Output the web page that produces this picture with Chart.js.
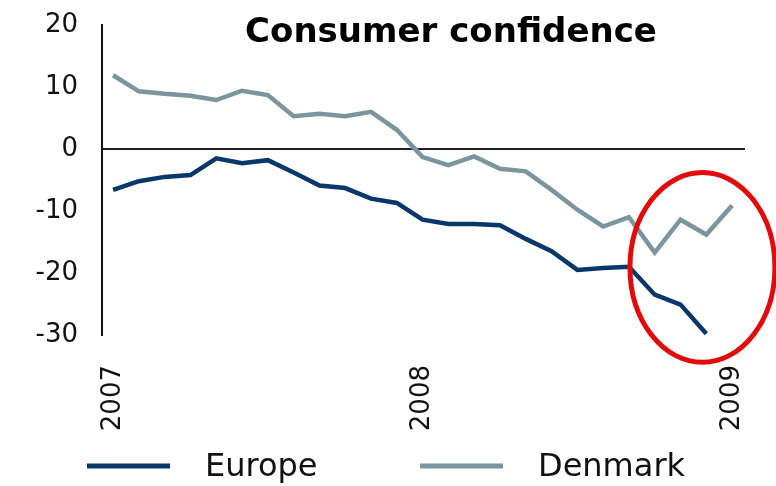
<!DOCTYPE html>
<html>
<head>
<meta charset="utf-8">
<script src="https://cdn.jsdelivr.net/npm/chart.js@4.4.1/dist/chart.umd.min.js"></script>
<style>
  html, body { margin: 0; padding: 0; background: #fff; }
  #wrap { width: 776px; height: 486px; }
</style>
</head>
<body>
<div id="wrap"><canvas id="myChart"></canvas></div>
<script>
// Consumer confidence, monthly, Jan 2007 - Jan 2009

const seriesNames = ['Europe', 'Denmark'];
const europe = [-6.6, -5.2, -4.5, -4.2, -1.5, -2.3, -1.8, -3.8, -5.9, -6.3, -8.0, -8.7,
                -11.4, -12.1, -12.1, -12.3, -14.5, -16.5, -19.5, -19.2, -19.0, -23.5, -25.1, -29.8];
const denmark = [11.9, 9.3, 8.9, 8.6, 7.9, 9.4, 8.7, 5.3, 5.7, 5.3, 6.0, 3.1,
                 -1.3, -2.6, -1.2, -3.2, -3.6, -6.6, -9.8, -12.5, -11.0, -16.7, -11.4, -13.8, -9.1];
const yearTicks = ['2007', '2008', '2009'];   // at month 0, 12, 24
const yTicks = [20, 10, 0, -10, -20, -30];

// red circle round the last months (centre and radii in data units)
const circle = { x: 22.85, y: -19.1, rx: 2.81, ry: 15.3 };

const FONT = 'DejaVu Sans';
Chart.defaults.font.family = FONT;
Chart.defaults.color = '#111';

const toPoints = arr => arr.map((v, i) => ({ x: i, y: v }));

// titolo
const titlePlugin = {
    id: 'titolo',
    afterDraw(chart) {
        const c = chart.ctx;
        c.save();
        c.font = 'bold 34px ' + FONT;
        c.fillStyle = '#000';
        c.textAlign = 'center';
        c.textBaseline = 'alphabetic';
        c.fillText('Consumer confidence', 451, 42);
        c.restore();
    }
};

// cerchio rosso
const circlePlugin = {
    id: 'cerchio',
    afterDraw(chart) {
        const xs = chart.scales.x, ys = chart.scales.y;
        const cx = xs.getPixelForValue(circle.x);
        const cy = ys.getPixelForValue(circle.y);
        const rx = xs.getPixelForValue(circle.x + circle.rx) - cx;
        const ry = ys.getPixelForValue(circle.y - circle.ry) - cy;
        const c = chart.ctx;
        c.save();
        c.beginPath();
        c.ellipse(cx, cy, rx, ry, 0, 0, Math.PI * 2);
        c.strokeStyle = '#e20a0a';
        c.lineWidth = 5;
        c.stroke();
        c.restore();
    }
};

// legenda in basso
const legendPlugin = {
    id: 'legenda',
    afterDraw(chart) {
        const c = chart.ctx;
        const starts = [87, 420];
        c.save();
        chart.data.datasets.forEach((ds, i) => {
            const x0 = starts[i];
            c.beginPath();
            c.moveTo(x0, 466);
            c.lineTo(x0 + 83, 466);
            c.strokeStyle = ds.borderColor;
            c.lineWidth = 5;
            c.stroke();
            c.font = '32px ' + FONT;
            c.fillStyle = '#111';
            c.textAlign = 'left';
            c.textBaseline = 'middle';
            c.fillText(ds.label, x0 + 118, 468);
        });
        c.restore();
    }
};

const ctx = document.getElementById('myChart');
const myChart = new Chart(ctx, {
    type: 'line',
    data: {
        datasets: [{
            label: seriesNames[0],
            data: toPoints(europe),
            borderColor: '#08386a',
            backgroundColor: '#08386a',
            borderWidth: 4.5,
            pointRadius: 0,
            tension: 0
        }, {
            label: seriesNames[1],
            data: toPoints(denmark),
            borderColor: '#7b959f',
            backgroundColor: '#7b959f',
            borderWidth: 4.5,
            pointRadius: 0,
            tension: 0
        }]
    },
    options: {
        responsive: true,
        maintainAspectRatio: false,
        animation: false,
        layout: { padding: { top: 25, right: 31, left: 0, bottom: 0 } },
        plugins: {
            legend: { display: false },
            title: { display: false },
            tooltip: { enabled: false }
        },
        scales: {
            x: {
                type: 'linear',
                min: -0.43,
                max: 24.5,
                afterBuildTicks: s => { s.ticks = [0, 12, 24].map(v => ({ value: v })); },
                afterFit: s => {
                    s.height = 151;
                    s.paddingLeft = 0;
                    s.paddingRight = 0;
                },
                grid: { display: false },
                border: { display: false },
                ticks: {
                    autoSkip: false,
                    minRotation: 90,
                    maxRotation: 90,
                    padding: 22,
                    font: { size: 26 },
                    callback: v => yearTicks[v / 12]
                }
            },
            y: {
                min: -30,
                max: 20,
                afterBuildTicks: s => { s.ticks = yTicks.map(v => ({ value: v })); },
                afterFit: s => {
                    s.width = 102;
                    s.paddingTop = 0;
                    s.paddingBottom = 0;
                },
                grid: {
                    drawTicks: false,
                    color: c => c.tick && c.tick.value === 0 ? '#222' : 'rgba(0,0,0,0)',
                    lineWidth: 2
                },
                border: { display: true, color: '#111', width: 2 },
                ticks: {
                    padding: 24,
                    font: { size: 26 }
                }
            }
        }
    },
    plugins: [titlePlugin, circlePlugin, legendPlugin]
});
</script>
</body>
</html>
